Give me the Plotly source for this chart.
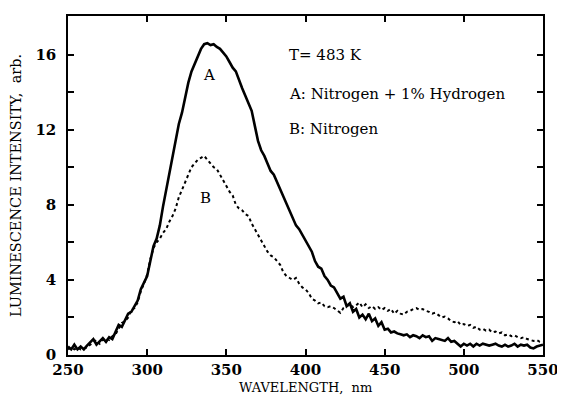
import plotly.graph_objects as go

# wavelength grid (nm), shared by both spectra
wavelength = [
    250, 252, 254, 256, 258, 260, 262, 264, 266, 268, 270, 272, 274, 276, 278,
    280, 282, 284, 286, 288, 290, 292, 294, 296, 298, 300, 302, 304, 306, 308,
    310, 312, 314, 316, 318, 320, 322, 324, 326, 328, 330, 332, 334, 336, 338,
    340, 342, 344, 346, 348, 350, 352, 354, 356, 358, 360, 362, 364, 366, 368,
    370, 372, 374, 376, 378, 380, 382, 384, 386, 388, 390, 392, 394, 396, 398,
    400, 402, 404, 406, 408, 410, 412, 414, 416, 418, 420, 422, 424, 426, 428,
    430, 432, 434, 436, 438, 440, 442, 444, 446, 448, 450, 452, 454, 456, 458,
    460, 462, 464, 466, 468, 470, 472, 474, 476, 478, 480, 482, 484, 486, 488,
    490, 492, 494, 496, 498, 500, 502, 504, 506, 508, 510, 512, 514, 516, 518,
    520, 522, 524, 526, 528, 530, 532, 534, 536, 538, 540, 542, 544, 546, 548,
    550,
]

# A: Nitrogen + 1% Hydrogen
intensity_a = [
    0.45, 0.30, 0.55, 0.30, 0.45, 0.30, 0.50, 0.70, 0.85, 0.55, 0.75, 0.90, 0.70, 0.95, 0.85,
    1.20, 1.60, 1.50, 1.90, 2.20, 2.30, 2.60, 2.90, 3.50, 3.90, 4.20, 5.00, 5.80, 6.20, 6.90,
    7.90, 8.80, 9.70, 10.5, 11.4, 12.3, 12.9, 13.7, 14.5, 15.1, 15.5, 16.0, 16.3, 16.55, 16.6,
    16.5, 16.55, 16.4, 16.3, 16.1, 15.9, 15.6, 15.3, 15.1, 14.6, 14.2, 13.8, 13.4, 13.0, 12.2,
    11.4, 10.9, 10.6, 10.2, 9.80, 9.60, 9.20, 8.80, 8.50, 8.00, 7.60, 7.30, 6.90, 6.70, 6.40,
    6.10, 5.80, 5.50, 5.00, 4.70, 4.60, 4.20, 4.00, 3.70, 3.60, 3.30, 3.00, 3.10, 2.60, 2.75,
    2.30, 2.45, 2.00, 2.15, 1.90, 2.20, 1.80, 1.95, 1.55, 1.75, 1.35, 1.40, 1.20, 1.25, 1.15,
    1.10, 1.05, 1.10, 0.95, 1.05, 1.00, 0.90, 1.05, 0.95, 1.00, 0.75, 0.90, 0.85, 0.80, 0.75,
    0.90, 0.70, 0.75, 0.60, 0.45, 0.60, 0.50, 0.60, 0.45, 0.60, 0.50, 0.60, 0.55, 0.50, 0.55,
    0.60, 0.50, 0.45, 0.55, 0.45, 0.50, 0.60, 0.45, 0.55, 0.50, 0.55, 0.40, 0.35, 0.45, 0.50,
    0.55,
]

# B: Nitrogen
intensity_b = [
    0.30, 0.40, 0.30, 0.40, 0.30, 0.35, 0.40, 0.55, 0.70, 0.80, 0.60, 0.80, 0.90, 0.80, 1.00,
    1.10, 1.40, 1.70, 1.80, 2.00, 2.40, 2.50, 2.80, 3.40, 3.80, 4.30, 5.10, 5.70, 6.00, 6.20,
    6.50, 6.70, 7.10, 7.40, 7.80, 8.40, 8.80, 9.20, 9.70, 10.0, 10.2, 10.4, 10.5, 10.6, 10.4,
    10.2, 10.0, 9.90, 9.60, 9.30, 9.00, 8.70, 8.50, 8.00, 7.80, 7.70, 7.50, 7.40, 7.00, 6.70,
    6.40, 6.10, 5.80, 5.50, 5.30, 5.20, 5.00, 4.80, 4.40, 4.20, 4.10, 4.00, 4.10, 3.80, 3.60,
    3.50, 3.30, 3.00, 2.90, 2.75, 2.80, 2.60, 2.55, 2.60, 2.50, 2.35, 2.25, 2.50, 2.60, 2.70,
    2.55, 2.65, 2.80, 2.55, 2.70, 2.50, 2.60, 2.45, 2.55, 2.40, 2.50, 2.35, 2.45, 2.20, 2.35,
    2.20, 2.15, 2.30, 2.35, 2.45, 2.50, 2.40, 2.45, 2.35, 2.30, 2.20, 2.25, 2.10, 2.00, 2.05,
    1.95, 1.80, 1.75, 1.80, 1.60, 1.65, 1.55, 1.60, 1.45, 1.50, 1.35, 1.40, 1.30, 1.35, 1.20,
    1.25, 1.15, 1.20, 1.05, 1.10, 1.00, 1.05, 0.95, 0.90, 0.95, 0.85, 0.80, 0.75, 0.80, 0.70,
    0.70,
]

y_ticks = [0, 2, 4, 6, 8, 10, 12, 14, 16]
y_tick_labels = ["0", "", "4", "", "8", "", "12", "", "16"]
x_ticks = [250, 300, 350, 400, 450, 500, 550]

SERIF = "DejaVu Serif"

fig = go.Figure()
fig.add_trace(go.Scatter(x=wavelength, y=intensity_b, mode="lines",
                         line=dict(color="black", width=2, dash="dot"), name="B"))
fig.add_trace(go.Scatter(x=wavelength, y=intensity_a, mode="lines",
                         line=dict(color="black", width=2.6), name="A"))

axis_common = dict(
    showgrid=False, zeroline=False, showline=True, linecolor="black", linewidth=1.5,
    mirror="ticks", ticks="inside", ticklen=6, tickwidth=1.5, tickcolor="black",
    tickfont=dict(family=SERIF, size=15, color="black", weight="bold"),
)

fig.update_xaxes(range=[250, 550], tickvals=x_ticks, ticklabelstandoff=0, **axis_common)
fig.update_yaxes(range=[0, 18.05], tickvals=y_ticks, ticktext=y_tick_labels, ticklabelstandoff=7,
                 title=dict(text="LUMINESCENCE INTENSITY,  arb.", standoff=11,
                            font=dict(family=SERIF, size=14.5, color="black")),
                 **axis_common)

# x-axis title sits tight under the tick labels, so place it as a paper annotation
fig.add_annotation(x=0.5, y=-0.095, xref="paper", yref="paper", text="WAVELENGTH,  nm",
                   showarrow=False, yanchor="middle",
                   font=dict(family=SERIF, size=13, color="black"))

# legend-like notes in the upper right, positioned in data coordinates
notes = [
    (388.5, 16.0, "T= 483 K"),
    (388.5, 13.9, "A: Nitrogen + 1% Hydrogen"),
    (388.5, 12.05, "B: Nitrogen"),
]
for x, y, txt in notes:
    fig.add_annotation(x=x, y=y, text=txt, showarrow=False, xanchor="left", yanchor="middle",
                       font=dict(family=SERIF, size=15, color="black"))

fig.add_annotation(x=339, y=14.9, text="A", showarrow=False,
                   font=dict(family=SERIF, size=15, color="black"))
fig.add_annotation(x=337, y=8.35, text="B", showarrow=False,
                   font=dict(family=SERIF, size=15, color="black"))

# the page body adds an 8px margin, so the figure is 8px smaller than the window
fig.update_layout(
    width=557, height=393,
    margin=dict(l=60, r=17, t=6, b=46),
    paper_bgcolor="white", plot_bgcolor="white",
    showlegend=False,
)

fig.write_html("out.html")
